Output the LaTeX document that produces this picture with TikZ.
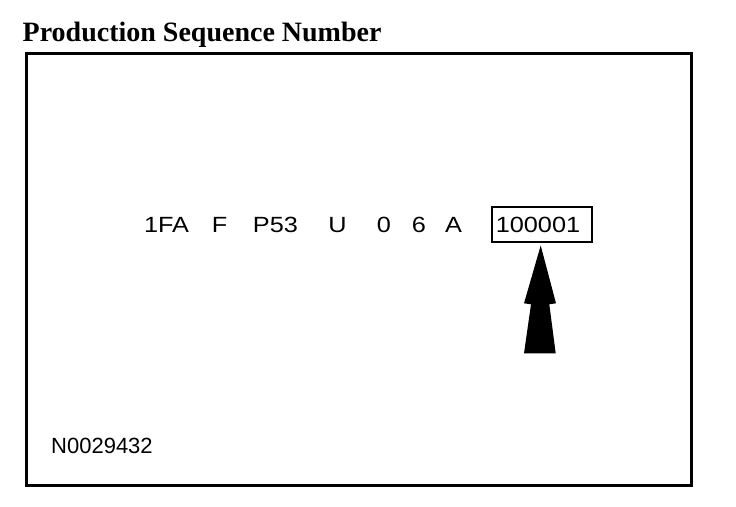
\documentclass[tikz,border=0pt]{standalone}
\usepackage{fontspec}
\setmainfont{Liberation Serif}
\newfontfamily\labelfont{Liberation Sans}
\newfontfamily\rowfont[FakeStretch=1.15]{Liberation Sans}
\begin{document}
\begin{tikzpicture}[x=1pt,y=-1pt,
  titlestyle/.style={inner sep=0pt, anchor=base west, font=\bfseries\fontsize{28}{30}\selectfont},
  token/.style={inner sep=0pt, anchor=base, font=\rowfont\fontsize{22}{24}\selectfont},
  figlabel/.style={inner sep=0pt, anchor=base west, font=\labelfont\fontsize{22}{24}\selectfont},
  framebox/.style={draw, line width=3pt, inner sep=0pt, minimum width=665pt, minimum height=432pt},
  numbox/.style={draw, line width=1.8pt, inner sep=0pt, minimum width=100pt, minimum height=35pt},
  bigarrow/.style={fill=black, draw=none}]
\fill[white] (0,0) rectangle (736,506);
\useasboundingbox (0,0) rectangle (736,506);
\node[titlestyle] (title) at (22.5,41.7) {Production Sequence Number};
\node[framebox] (frame) at (358.5,269) {};
\node[token] (t1) at (166.5,232.5) {1FA};
\node[token] (t2) at (219.5,232.5) {F};
\node[token] (t3) at (275.5,232.5) {P53};
\node[token] (t4) at (337.5,232.5) {U};
\node[token] (t5) at (384,232.5) {0};
\node[token] (t6) at (419,232.5) {6};
\node[token] (t7) at (453.5,232.5) {A};
\node[numbox] (box) at (541.7,224.8) {};
\node[token] (seq) at (538,232.5) {100001};
\fill[bigarrow] (540.7,245.5) -- (556,303.3) -- (549.3,304.3) -- (555.7,353.3)
  -- (524,353.3) -- (531,304.3) -- (524,303.3) -- cycle;
\node[figlabel] (code) at (51,453) {N0029432};
\end{tikzpicture}
\end{document}
